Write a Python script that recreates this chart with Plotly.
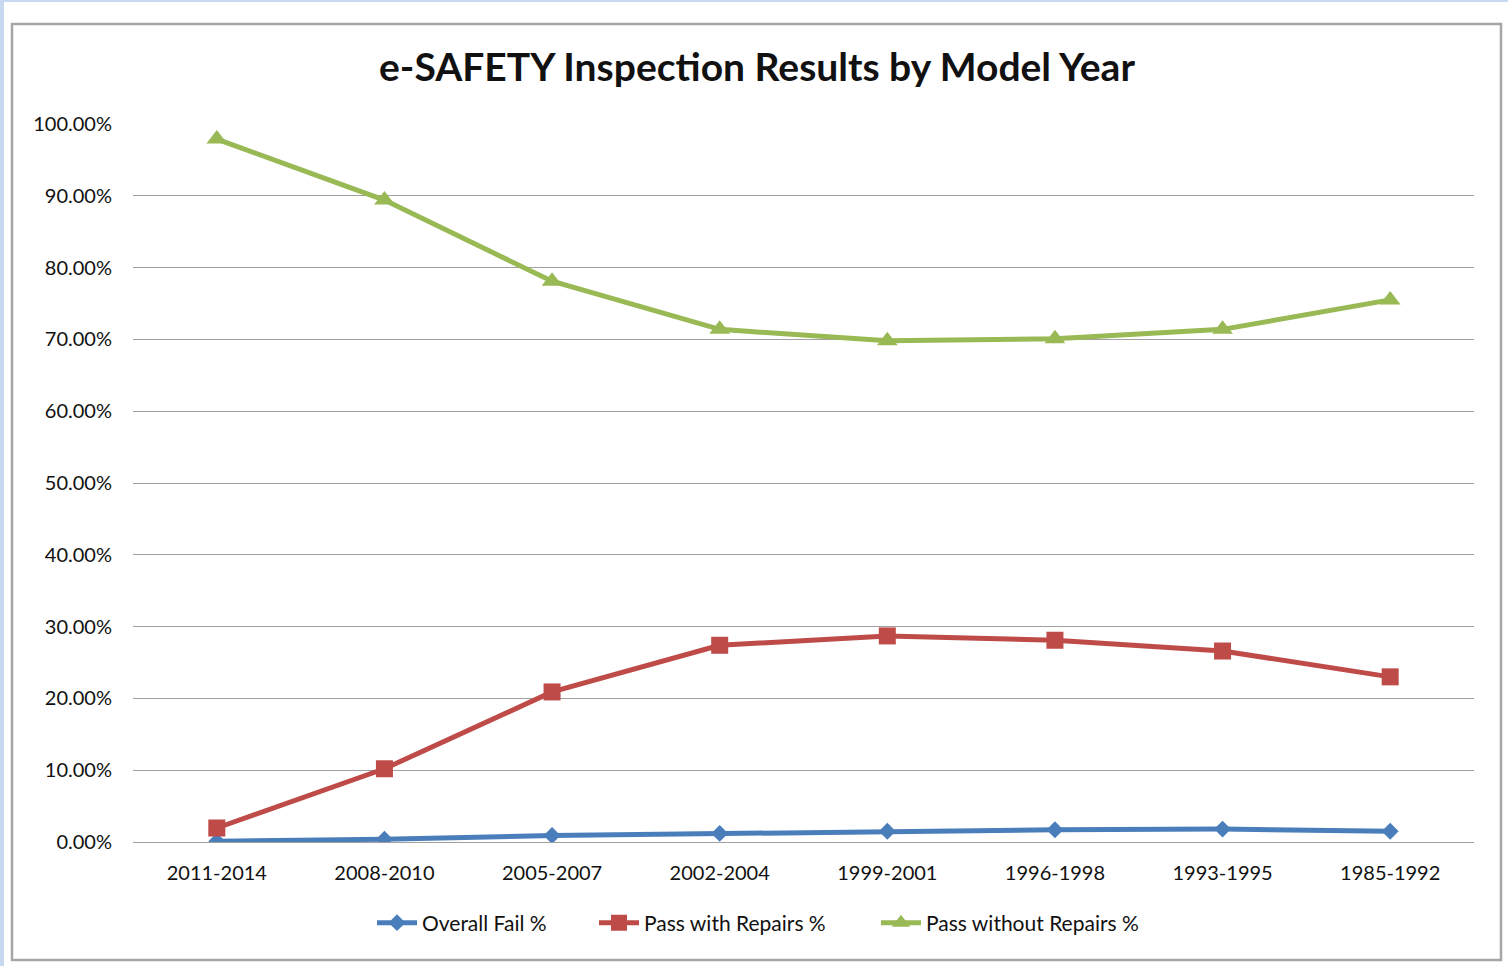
import plotly.graph_objects as go

categories = ["2011-2014", "2008-2010", "2005-2007", "2002-2004",
              "1999-2001", "1996-1998", "1993-1995", "1985-1992"]
overall_fail = [0.001, 0.004, 0.009, 0.012, 0.015, 0.017, 0.018, 0.015]
pass_with_repairs = [0.0195, 0.102, 0.209, 0.274, 0.287, 0.281, 0.266, 0.230]
pass_without_repairs = [0.979, 0.894, 0.781, 0.714, 0.698, 0.701, 0.714, 0.755]
y_ticks = [0.0, 0.1, 0.2, 0.3, 0.4, 0.5, 0.6, 0.7, 0.8, 0.9, 1.0]

FONT = "Lato, 'Open Sans', sans-serif"
TXT = "#111111"

fig = go.Figure()
fig.add_trace(go.Scatter(
    x=categories, y=overall_fail, name="Overall Fail %", mode="lines+markers",
    line=dict(color="#4a7ebb", width=5),
    marker=dict(symbol="diamond", size=13, color="#4a7ebb"), legend="legend"))
fig.add_trace(go.Scatter(
    x=categories, y=pass_with_repairs, name="Pass with Repairs %", mode="lines+markers",
    line=dict(color="#be4b48", width=5),
    marker=dict(symbol="square", size=17, color="#be4b48"), legend="legend2"))
fig.add_trace(go.Scatter(
    x=categories, y=pass_without_repairs, name="Pass without Repairs %", mode="lines+markers",
    line=dict(color="#98b954", width=5),
    marker=dict(symbol="triangle-up", size=18, color="#98b954"), legend="legend3"))

# frame and page edges (paper coordinates)
fig.add_shape(type="rect", xref="paper", yref="paper",
              x0=-0.09023, x1=1.02013, y0=-0.16435, y1=1.13928,
              line=dict(color="#a6a6a6", width=2.5), fillcolor="rgba(0,0,0,0)", layer="below")
fig.add_shape(type="rect", xref="paper", yref="paper",
              x0=-0.1, x1=-0.0962, y0=-0.18, y1=1.18,
              line=dict(width=0), fillcolor="#c6d9f1", layer="below")
fig.add_shape(type="rect", xref="paper", yref="paper",
              x0=-0.1, x1=1.03, y0=1.1699, y1=1.18,
              line=dict(width=0), fillcolor="#c6d9f1", layer="below")

def legend_box(x_text_left):
    return dict(orientation="h", x=(x_text_left - 51 - 133) / 1341, xanchor="left",
                y=-0.1128, yanchor="middle",
                font=dict(family=FONT, size=21, color=TXT), itemwidth=40,
                bgcolor="rgba(0,0,0,0)")

fig.update_layout(
    width=1508, height=966,
    margin=dict(l=133, r=34, t=124, b=124),
    paper_bgcolor="white", plot_bgcolor="white",
    font=dict(family=FONT, color=TXT, size=20),
    title=dict(text="<b>e-SAFETY Inspec<span>t</span>ion Results by Model Year</b>",
               x=757 / 1508, xanchor="center", y=1 - 67 / 966, yanchor="middle",
               font=dict(family=FONT, size=39, color=TXT)),
    showlegend=True,
    legend=legend_box(423),
    legend2=legend_box(645),
    legend3=legend_box(927),
)
fig.update_xaxes(type="category", range=[-0.5, 7.5], showgrid=False, zeroline=False,
                 showline=False, ticks="", tickfont=dict(size=20, color=TXT),
                 ticklabelstandoff=17)
fig.update_yaxes(range=[0, 1], tickvals=y_ticks, tickformat=".2%",
                 showgrid=True, gridcolor="#a0a0a0", gridwidth=1.3,
                 zeroline=True, zerolinecolor="#a0a0a0", zerolinewidth=1.3,
                 showline=False, ticks="", tickfont=dict(size=20, color=TXT),
                 ticklabelstandoff=20)

fig.write_html("out.html", config={"displayModeBar": False},
               post_script="document.body.style.margin='0';")
